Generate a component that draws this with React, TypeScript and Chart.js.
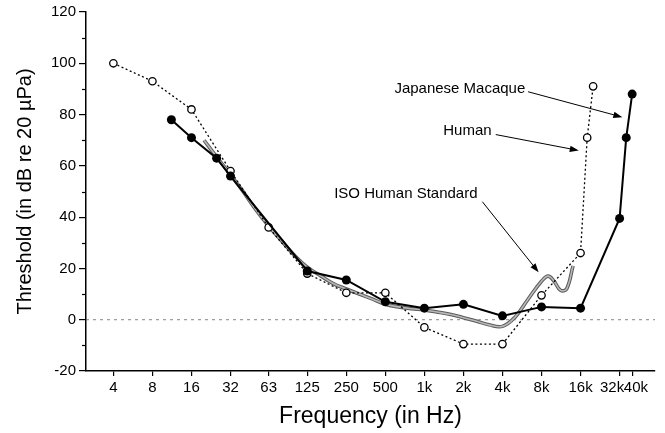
import React, { useEffect, useRef } from 'react';
import { Chart, registerables } from 'chart.js';

Chart.register(...registerables);

const FONT = "'Liberation Sans', Arial, Helvetica, sans-serif";

// Axis ticks
const xTickValues = [4, 8, 16, 32, 63, 125, 250, 500, 1000, 2000, 4000, 8000, 16000, 32000, 40000];
const xTickLabels = ['4', '8', '16', '32', '63', '125', '250', '500', '1k', '2k', '4k', '8k', '16k', '32k\u2002\u2002', '\u200240k'];
const yMinorTicks = [-10, 10, 30, 50, 70, 90, 110];
const X_MIN = 2.46;
const X_MAX = 60000;
const Y_MIN = -20;
const Y_MAX = 120;

// Human (open circles, dotted)
const humanFreq = [4, 8, 16, 32, 63, 125, 250, 500, 1000, 2000, 4000, 8000, 16000, 18000, 20000];
const humanDb = [100, 93, 82, 58, 36, 18, 10.5, 10.5, -3, -9.5, -9.5, 9.5, 26, 71, 91];

// Japanese Macaque (filled circles, solid)
const macaqueFreq = [11.2, 16, 25, 32, 125, 250, 500, 1000, 2000, 4000, 8000, 16000, 32000, 36000, 40000];
const macaqueDb = [78, 71, 63, 56, 19, 15.5, 7, 4.5, 6, 1.5, 5, 4.5, 39.5, 71, 88];

// ISO Human Standard (gray curve)
const isoFreq = [20, 25, 31.5, 40, 50, 63, 80, 100, 125, 160, 200, 250, 315, 400, 500, 630, 800, 1000, 1250, 1600, 2000, 2500, 3150, 4000, 5000, 6300, 8000, 9000, 10000, 11200, 12500, 14000];
const isoDb = [70, 63.5, 57, 50, 43, 36.5, 30.5, 25, 20.5, 17, 14, 12, 10, 8, 6, 5, 4.3, 3.8, 3, 2, 0.8, -0.5, -2, -2.6, 1, 8, 15, 17, 15, 11.5, 12, 21];

// Annotations (anchored in data space)
const noteText = ['Japanese Macaque', 'Human', 'ISO Human Standard'];
const noteFreq = [6000, 3300, 2570];
const noteDb = [90, 73.5, 49];
const arrowFromFreq = [6300, 3550, 2800];
const arrowFromDb = [88.9, 72.2, 46];
const arrowToFreq = [33600, 15500, 7600];
const arrowToDb = [79, 66, 18.5];

const toXY = (fs: number[], vs: number[]) => fs.map((f, i) => ({ x: f, y: vs[i] }));

const overlayPlugin = {
  id: 'overlay',
  beforeDatasetsDraw(chart: any) {
    const { ctx, chartArea, scales } = chart;
    const py = scales.y.getPixelForValue(0);
    ctx.save();
    ctx.strokeStyle = '#666';
    ctx.lineWidth = 0.8;
    ctx.setLineDash([3, 4]);
    ctx.beginPath();
    ctx.moveTo(chartArea.left, py);
    ctx.lineTo(chartArea.right, py);
    ctx.stroke();
    ctx.restore();
  },
  afterDraw(chart: any) {
    const { ctx, chartArea, scales } = chart;
    const { x, y } = scales;
    ctx.save();
    // minor y ticks
    ctx.strokeStyle = '#000';
    ctx.lineWidth = 1.2;
    yMinorTicks.forEach((v) => {
      const py = Math.round(y.getPixelForValue(v)) + 0.5;
      ctx.beginPath();
      ctx.moveTo(chartArea.left - 4, py);
      ctx.lineTo(chartArea.left, py);
      ctx.stroke();
    });
    // annotations
    ctx.fillStyle = '#000';
    ctx.font = `15px ${FONT}`;
    ctx.textAlign = 'right';
    ctx.textBaseline = 'middle';
    noteText.forEach((t, i) => {
      ctx.fillText(t, x.getPixelForValue(noteFreq[i]), y.getPixelForValue(noteDb[i]));
      const x0 = x.getPixelForValue(arrowFromFreq[i]);
      const y0 = y.getPixelForValue(arrowFromDb[i]);
      const x1 = x.getPixelForValue(arrowToFreq[i]);
      const y1 = y.getPixelForValue(arrowToDb[i]);
      const ang = Math.atan2(y1 - y0, x1 - x0);
      const hl = 9;
      const hw = 3.2;
      ctx.lineWidth = 1;
      ctx.beginPath();
      ctx.moveTo(x0, y0);
      ctx.lineTo(x1 - Math.cos(ang) * hl * 0.8, y1 - Math.sin(ang) * hl * 0.8);
      ctx.stroke();
      ctx.beginPath();
      ctx.moveTo(x1, y1);
      ctx.lineTo(x1 - Math.cos(ang) * hl - Math.sin(ang) * hw, y1 - Math.sin(ang) * hl + Math.cos(ang) * hw);
      ctx.lineTo(x1 - Math.cos(ang) * hl + Math.sin(ang) * hw, y1 - Math.sin(ang) * hl - Math.cos(ang) * hw);
      ctx.closePath();
      ctx.fill();
    });
    ctx.restore();
  },
};

export default function App() {
  const ref = useRef<HTMLCanvasElement | null>(null);

  useEffect(() => {
    if (!ref.current) return;
    const chart = new Chart(ref.current, {
      type: 'line',
      data: {
        datasets: [
          {
            label: 'Japanese Macaque',
            data: toXY(macaqueFreq, macaqueDb),
            borderColor: '#000',
            borderWidth: 2,
            backgroundColor: '#000',
            pointRadius: 4.5,
            pointBackgroundColor: '#000',
            pointBorderColor: '#000',
            pointBorderWidth: 0,
            tension: 0,
            order: 0,
          },
          {
            label: 'Human',
            data: toXY(humanFreq, humanDb),
            borderColor: '#000',
            borderWidth: 1.3,
            borderDash: [2, 2.5],
            backgroundColor: '#fff',
            pointRadius: 3.7,
            pointBackgroundColor: '#fff',
            pointBorderColor: '#000',
            pointBorderWidth: 1.3,
            tension: 0,
            order: 1,
          },
          {
            label: 'ISO Human Standard',
            data: toXY(isoFreq, isoDb),
            borderColor: '#b8b8b8',
            borderWidth: 1.6,
            pointRadius: 0,
            tension: 0.4,
            order: 2,
          },
          {
            label: 'ISO outline',
            data: toXY(isoFreq, isoDb),
            borderColor: '#5a5a5a',
            borderWidth: 3.6,
            pointRadius: 0,
            tension: 0.4,
            order: 3,
          },
        ],
      },
      options: {
        animation: false,
        responsive: true,
        maintainAspectRatio: false,
        layout: { padding: { top: 12, right: 10, left: 0, bottom: 0 } },
        plugins: { legend: { display: false }, tooltip: { enabled: false } },
        scales: {
          x: {
            type: 'logarithmic',
            min: X_MIN,
            max: X_MAX,
            afterBuildTicks: (s: any) => {
              s.ticks = xTickValues.map((v) => ({ value: v }));
            },
            afterFit: (s: any) => {
              s.height = 62;
            },
            ticks: {
              autoSkip: false,
              maxRotation: 0,
              minRotation: 0,
              padding: 3,
              color: '#000',
              font: { family: FONT, size: 15 },
              callback: (_v: any, i: number) => xTickLabels[i],
            },
            grid: { display: true, drawOnChartArea: false, drawTicks: true, tickLength: 5, color: '#000', lineWidth: 1.2 },
            border: { display: true, color: '#000', width: 1.5 },
            title: {
              display: true,
              text: 'Frequency (in Hz)',
              color: '#000',
              font: { family: FONT, size: 23 },
              padding: { top: 0, bottom: 3 },
            },
          },
          y: {
            type: 'linear',
            min: Y_MIN,
            max: Y_MAX,
            afterFit: (s: any) => {
              s.width = 86;
            },
            ticks: {
              stepSize: 20,
              padding: 3,
              color: '#000',
              font: { family: FONT, size: 15 },
            },
            grid: { display: true, drawOnChartArea: false, drawTicks: true, tickLength: 7, color: '#000', lineWidth: 1.2 },
            border: { display: true, color: '#000', width: 1.5 },
            title: {
              display: true,
              text: 'Threshold (in dB re 20 µPa)',
              color: '#000',
              font: { family: FONT, size: 20 },
              padding: { top: 13, bottom: 0 },
            },
          },
        },
      },
      plugins: [overlayPlugin],
    });
    return () => chart.destroy();
  }, []);

  return (
    <div style={{ position: 'absolute', left: 0, top: 0, width: 665, height: 433, background: '#fff' }}>
      <canvas ref={ref} />
    </div>
  );
}
